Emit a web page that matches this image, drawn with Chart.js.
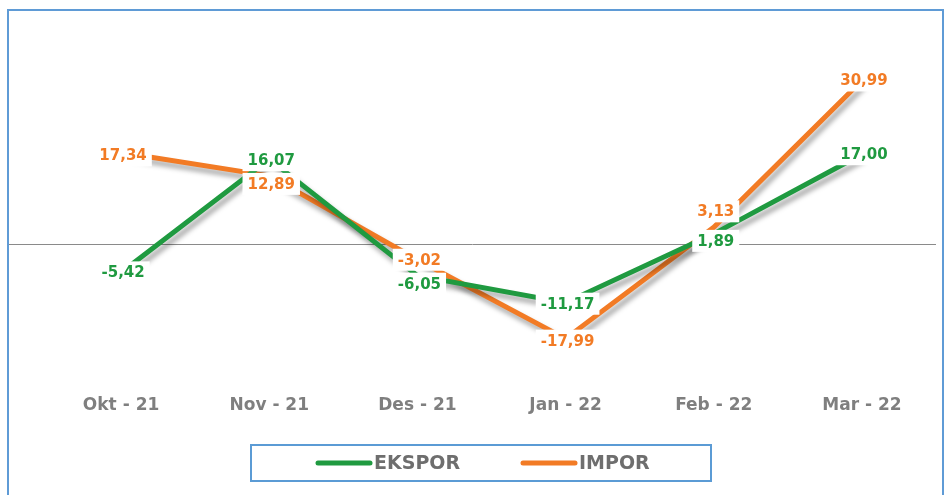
<!DOCTYPE html>
<html>
<head>
<meta charset="utf-8">
<script src="https://cdn.jsdelivr.net/npm/chart.js@4.4.1/dist/chart.umd.min.js"></script>
<style>
  body { margin: 0; background: #fff; }
  #wrap { position: relative; width: 947px; height: 495px; overflow: hidden; }
  #frame { position: absolute; left: 7px; top: 9px; width: 933px; height: 520px; border: 2px solid #5f9bd6; }
  canvas { position: absolute; left: 0; top: 0; }
</style>
</head>
<body>
<div id="wrap">
  <div id="frame"></div>
  <canvas id="chart" width="947" height="495"></canvas>
</div>
<script>
'use strict';

let months = ['Okt - 21', 'Nov - 21', 'Des - 21', 'Jan - 22', 'Feb - 22', 'Mar - 22'];
let ekspor = [-5.42, 16.07, -6.05, -11.17, 1.89, 17.00];
let impor = [17.34, 12.89, -3.02, -17.99, 3.13, 30.99];

let green = '#1f9a40';
let orange = '#f27b25';

let canvasElem = document.getElementById('chart');

function fmt(v) {
  return v.toFixed(2).replace('.', ',');
}

// zero line across the whole frame + drop shadow on the lines
let zeroLine = {
  id: 'zeroLine',
  beforeDatasetsDraw(chart) {
    let ctx = chart.ctx;
    let y = Math.round(chart.scales.y.getPixelForValue(0)) + 0.5;
    ctx.save();
    ctx.strokeStyle = '#8a8a8a';
    ctx.lineWidth = 1;
    ctx.beginPath();
    ctx.moveTo(9, y);
    ctx.lineTo(chart.chartArea.right, y);
    ctx.stroke();
    ctx.restore();
  },
  beforeDatasetDraw(chart) {
    chart.ctx.save();
    chart.ctx.shadowColor = 'rgba(0,0,0,0.35)';
    chart.ctx.shadowBlur = 5;
    chart.ctx.shadowOffsetX = 3;
    chart.ctx.shadowOffsetY = 5;
  },
  afterDatasetDraw(chart) {
    chart.ctx.restore();
  }
};

// value labels in white boxes
let valueLabels = {
  id: 'valueLabels',
  afterDatasetsDraw(chart) {
    let ctx = chart.ctx;
    ctx.save();
    ctx.font = 'bold 15px "DejaVu Sans"';
    ctx.textAlign = 'center';
    ctx.textBaseline = 'middle';
    for (let d = chart.data.datasets.length - 1; d >= 0; d--) {
      let ds = chart.data.datasets[d];
      let meta = chart.getDatasetMeta(d);
      meta.data.forEach((pt, i) => {
        let txt = fmt(ds.data[i]);
        let x = pt.x + 2;
        let y = pt.y + (ds.labelDy ? ds.labelDy[i] : 0);
        let w = ctx.measureText(txt).width + 10;
        ctx.fillStyle = '#ffffff';
        ctx.fillRect(x - w / 2, y - 11, w, 22);
        ctx.fillStyle = ds.borderColor;
        ctx.fillText(txt, x, y + 1);
      });
    }
    ctx.restore();
  }
};

// boxed legend at the bottom
let boxLegend = {
  id: 'boxLegend',
  afterDraw(chart) {
    let ctx = chart.ctx;
    ctx.save();
    ctx.strokeStyle = '#5b9bd5';
    ctx.lineWidth = 2;
    ctx.strokeRect(251, 445, 460, 36);
    let xs = [318, 523];
    ctx.font = 'bold 19px "DejaVu Sans"';
    ctx.textBaseline = 'middle';
    ctx.textAlign = 'left';
    chart.data.datasets.forEach((ds, i) => {
      ctx.strokeStyle = ds.borderColor;
      ctx.lineWidth = 5;
      ctx.lineCap = 'round';
      ctx.beginPath();
      ctx.moveTo(xs[i], 463);
      ctx.lineTo(xs[i] + 52, 463);
      ctx.stroke();
      ctx.fillStyle = '#6e6e6e';
      ctx.fillText(ds.label, xs[i] + 56, 464);
    });
    ctx.restore();
  }
};

function renderChart() {
  let chartObj = {
    type: 'line',
    data: {
      labels: months,
      datasets: [{
        label: 'EKSPOR',
        data: ekspor,
        borderColor: green,
        borderWidth: 5,
        pointRadius: 0,
        tension: 0,
        labelDy: [0, 1, 8, 1, 7, 0]
      },
      {
        label: 'IMPOR',
        data: impor,
        borderColor: orange,
        borderWidth: 5,
        pointRadius: 0,
        tension: 0,
        labelDy: [3, 8, 0, 2, -16, 0]
      }]
    },
    options: {
      responsive: false,
      animation: false,
      layout: {
        padding: { left: 47, right: 11, top: 33, bottom: 59 }
      },
      plugins: {
        legend: { display: false },
        tooltip: { enabled: false }
      },
      scales: {
        x: {
          offset: true,
          grid: { display: false, drawTicks: false },
          border: { display: false },
          ticks: {
            padding: 20,
            color: '#7f7f7f',
            font: { family: 'DejaVu Sans', size: 17, weight: 'bold' }
          }
        },
        y: {
          display: false,
          min: -25,
          max: 40
        }
      }
    },
    plugins: [zeroLine, valueLabels, boxLegend]
  };

  new Chart(canvasElem, chartObj);
}

renderChart();
</script>
</body>
</html>
